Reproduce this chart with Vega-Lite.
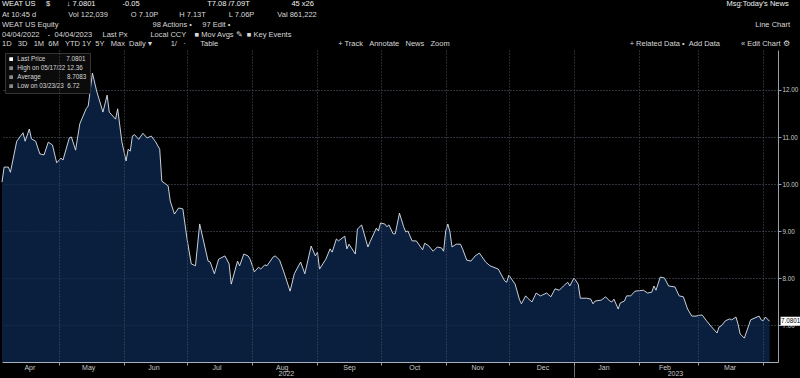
{
  "$schema": "https://vega.github.io/schema/vega-lite/v6.json",
  "width": 776,
  "height": 312,
  "padding": 0,
  "background": "#000000",
  "title": {
    "text": "WEAT US\u00a0\u00a0\u00a0\u00a0\u00a0$\u00a0\u00a0\u00a0\u00a0\u00a0\u00a0\u00a0\u00a0\u2193 7.0801\u00a0\u00a0\u00a0\u00a0\u00a0\u00a0\u00a0\u00a0\u00a0\u00a0\u00a0\u00a0\u00a0-0.05\u2003\u2003\u2003\u2003\u2003\u2003\u2003\u2003\u2003T7.08 /7.09T\u2003\u2003\u2003\u2003\u2003\u00a0\u00a045 x26\u2003\u2003\u2003\u2003\u2003\u2003\u2003\u2003\u2003\u2003\u2003\u2003\u2003\u2003\u2003\u2003\u2003\u2003\u2003\u2003\u2003\u2003\u2003\u2003\u2003\u2003\u2003\u2003\u2003\u2003\u2003\u2003\u2003\u2003\u2003\u2003\u2003\u2003\u2003\u2003\u2003\u2003\u2003\u2003\u2003\u2003\u2003\u2003\u2003\u2003\u2003\u2003\u2003\u2003\u2003Msg:Today's News",
    "subtitle": [
      "\u00a0\u00a0\u00a0\u00a0\u00a0\u00a0\u00a0\u00a0\u00a0\u00a0At 10:45 d\u2003\u2003\u2003\u2003\u00a0Vol 122,039\u00a0\u00a0\u00a0\u00a0\u00a0\u00a0\u00a0\u00a0\u00a0\u00a0\u00a0O 7.10P\u00a0\u00a0\u00a0\u00a0\u00a0\u00a0\u00a0\u00a0\u00a0\u00a0H 7.13T\u00a0\u00a0\u00a0\u00a0\u00a0\u00a0\u00a0\u00a0\u00a0\u00a0\u00a0L 7.06P\u00a0\u00a0\u00a0\u00a0\u00a0\u00a0\u00a0\u00a0\u00a0\u00a0\u00a0Val 861,222",
      "WEAT US Equity\u2003\u2003\u2003\u2003\u2003\u2003\u2003\u2003\u2003\u2003\u2003\u2003\u00a0\u00a098 Actions \u2022\u00a0\u00a0\u00a0\u00a0\u00a097 Edit \u2022\u2003\u2003\u2003\u2003\u2003\u2003\u2003\u2003\u2003\u2003\u2003\u2003\u2003\u2003\u2003\u2003\u2003\u2003\u2003\u2003\u2003\u2003\u2003\u2003\u2003\u2003\u2003\u2003\u2003\u2003\u2003\u2003\u2003\u2003\u2003\u2003\u2003\u2003\u2003\u2003\u2003\u2003\u2003\u2003\u2003\u2003\u2003\u2003\u2003\u2003\u2003\u2003\u2003\u2003\u2003\u2003\u2003\u2003\u2003\u2003\u2003\u2003\u2003\u2003\u2003\u2003\u2003\u2003\u2003\u2003Line Chart",
      "04/04/2022\u00a0\u00a0\u00a0\u00a0-\u00a0\u00a004/04/2023\u00a0\u00a0\u00a0\u00a0\u00a0Last Px\u00a0\u00a0\u00a0\u00a0\u00a0\u00a0\u00a0\u00a0\u00a0\u00a0\u00a0Local CCY\u00a0\u00a0\u00a0\u00a0\u25a0 Mov Avgs \u270e\u00a0\u00a0\u25a0 Key Events",
      "\u00a01D\u00a0\u00a0\u00a03D\u00a0\u00a0\u00a01M\u00a0\u00a06M\u00a0\u00a0\u00a0YTD\u00a01Y\u00a0\u00a05Y\u00a0\u00a0\u00a0Max\u00a0\u00a0Daily \u25be\u00a0\u00a0\u00a0\u00a0\u00a0\u00a0\u00a0\u00a0\u00a01/\u00a0\u00a0\u00a0\u00b7\u00a0\u00a0\u00a0\u00a0\u00a0\u00a0\u00a0Table\u2003\u2003\u2003\u2003\u2003\u2003\u2003\u2003\u2003\u2003\u2003\u2003\u2003\u2003\u2003\u2003+ Track\u00a0\u00a0\u00a0Annotate\u00a0\u00a0\u00a0News\u00a0\u00a0\u00a0Zoom\u2003\u2003\u2003\u2003\u2003\u2003\u2003\u2003\u2003\u2003\u2003\u2003\u2003\u2003\u2003\u2003\u2003\u2003\u2003\u2003\u2003\u2003\u2003\u2003+ Related Data \u2022\u00a0\u00a0Add Data\u00a0\u00a0\u00a0\u00a0\u00a0\u00a0\u00a0\u00a0\u00a0\u00a0\u00ab Edit Chart \u2699"
    ],
    "anchor": "start",
    "frame": "group",
    "font": "Liberation Sans",
    "fontSize": 7.5,
    "fontWeight": "normal",
    "color": "#f0f0f0",
    "subtitleFont": "Liberation Sans",
    "subtitleFontSize": 7.5,
    "subtitleColor": "#d8d8d8",
    "subtitleLineHeight": 9.9,
    "subtitlePadding": 3,
    "offset": 2
  },
  "datasets": {
    "prices": [
      {"date": "2022-04-04", "price": 10.04},
      {"date": "2022-04-05", "price": 10.36},
      {"date": "2022-04-07", "price": 10.36},
      {"date": "2022-04-08", "price": 10.25},
      {"date": "2022-04-11", "price": 10.91},
      {"date": "2022-04-14", "price": 11.09},
      {"date": "2022-04-15", "price": 10.91},
      {"date": "2022-04-17", "price": 11.17},
      {"date": "2022-04-18", "price": 10.96},
      {"date": "2022-04-20", "price": 10.91},
      {"date": "2022-04-22", "price": 10.64},
      {"date": "2022-04-24", "price": 10.62},
      {"date": "2022-04-26", "price": 10.89},
      {"date": "2022-04-28", "price": 10.83},
      {"date": "2022-04-30", "price": 10.45},
      {"date": "2022-05-02", "price": 10.55},
      {"date": "2022-05-03", "price": 10.51},
      {"date": "2022-05-06", "price": 10.98},
      {"date": "2022-05-07", "price": 11.00},
      {"date": "2022-05-09", "price": 10.72},
      {"date": "2022-05-11", "price": 11.28},
      {"date": "2022-05-14", "price": 11.60},
      {"date": "2022-05-15", "price": 11.66},
      {"date": "2022-05-17", "price": 12.36},
      {"date": "2022-05-19", "price": 11.98},
      {"date": "2022-05-22", "price": 11.53},
      {"date": "2022-05-24", "price": 11.89},
      {"date": "2022-05-25", "price": 11.53},
      {"date": "2022-05-28", "price": 11.38},
      {"date": "2022-05-29", "price": 11.60},
      {"date": "2022-05-31", "price": 10.90},
      {"date": "2022-06-02", "price": 10.49},
      {"date": "2022-06-03", "price": 10.74},
      {"date": "2022-06-04", "price": 10.70},
      {"date": "2022-06-05", "price": 11.02},
      {"date": "2022-06-06", "price": 11.05},
      {"date": "2022-06-08", "price": 10.95},
      {"date": "2022-06-10", "price": 11.08},
      {"date": "2022-06-12", "price": 10.98},
      {"date": "2022-06-14", "price": 11.02},
      {"date": "2022-06-16", "price": 10.90},
      {"date": "2022-06-18", "price": 10.74},
      {"date": "2022-06-19", "price": 10.06},
      {"date": "2022-06-22", "price": 9.96},
      {"date": "2022-06-23", "price": 9.64},
      {"date": "2022-06-25", "price": 9.36},
      {"date": "2022-06-27", "price": 9.49},
      {"date": "2022-06-29", "price": 9.47},
      {"date": "2022-07-01", "price": 8.83},
      {"date": "2022-07-03", "price": 8.30},
      {"date": "2022-07-05", "price": 8.26},
      {"date": "2022-07-07", "price": 9.15},
      {"date": "2022-07-11", "price": 8.36},
      {"date": "2022-07-12", "price": 8.34},
      {"date": "2022-07-14", "price": 8.09},
      {"date": "2022-07-16", "price": 8.40},
      {"date": "2022-07-19", "price": 8.47},
      {"date": "2022-07-21", "price": 8.30},
      {"date": "2022-07-22", "price": 7.87},
      {"date": "2022-07-25", "price": 8.36},
      {"date": "2022-07-26", "price": 8.26},
      {"date": "2022-07-28", "price": 8.51},
      {"date": "2022-07-30", "price": 8.47},
      {"date": "2022-07-31", "price": 8.40},
      {"date": "2022-08-02", "price": 8.13},
      {"date": "2022-08-04", "price": 8.23},
      {"date": "2022-08-05", "price": 8.19},
      {"date": "2022-08-07", "price": 8.28},
      {"date": "2022-08-08", "price": 8.26},
      {"date": "2022-08-11", "price": 8.45},
      {"date": "2022-08-12", "price": 8.47},
      {"date": "2022-08-14", "price": 8.38},
      {"date": "2022-08-16", "price": 8.13},
      {"date": "2022-08-19", "price": 7.72},
      {"date": "2022-08-21", "price": 8.09},
      {"date": "2022-08-24", "price": 8.34},
      {"date": "2022-08-26", "price": 8.09},
      {"date": "2022-08-29", "price": 8.68},
      {"date": "2022-08-31", "price": 8.47},
      {"date": "2022-09-01", "price": 8.55},
      {"date": "2022-09-02", "price": 8.19},
      {"date": "2022-09-05", "price": 8.40},
      {"date": "2022-09-07", "price": 8.62},
      {"date": "2022-09-08", "price": 8.55},
      {"date": "2022-09-10", "price": 8.83},
      {"date": "2022-09-11", "price": 8.79},
      {"date": "2022-09-14", "price": 8.89},
      {"date": "2022-09-15", "price": 8.62},
      {"date": "2022-09-16", "price": 8.72},
      {"date": "2022-09-19", "price": 8.51},
      {"date": "2022-09-20", "price": 9.04},
      {"date": "2022-09-22", "price": 9.13},
      {"date": "2022-09-25", "price": 8.66},
      {"date": "2022-09-26", "price": 8.77},
      {"date": "2022-09-29", "price": 9.06},
      {"date": "2022-09-30", "price": 9.00},
      {"date": "2022-10-01", "price": 9.17},
      {"date": "2022-10-03", "price": 9.15},
      {"date": "2022-10-04", "price": 9.09},
      {"date": "2022-10-05", "price": 9.13},
      {"date": "2022-10-07", "price": 8.94},
      {"date": "2022-10-08", "price": 8.94},
      {"date": "2022-10-10", "price": 9.38},
      {"date": "2022-10-12", "price": 9.09},
      {"date": "2022-10-13", "price": 8.98},
      {"date": "2022-10-14", "price": 9.00},
      {"date": "2022-10-16", "price": 8.79},
      {"date": "2022-10-18", "price": 8.79},
      {"date": "2022-10-21", "price": 8.60},
      {"date": "2022-10-22", "price": 8.74},
      {"date": "2022-10-24", "price": 8.68},
      {"date": "2022-10-26", "price": 8.57},
      {"date": "2022-10-28", "price": 8.66},
      {"date": "2022-10-30", "price": 8.64},
      {"date": "2022-10-31", "price": 8.57},
      {"date": "2022-11-01", "price": 9.00},
      {"date": "2022-11-02", "price": 9.15},
      {"date": "2022-11-03", "price": 8.98},
      {"date": "2022-11-04", "price": 8.66},
      {"date": "2022-11-06", "price": 8.72},
      {"date": "2022-11-08", "price": 8.72},
      {"date": "2022-11-09", "price": 8.62},
      {"date": "2022-11-11", "price": 8.38},
      {"date": "2022-11-13", "price": 8.36},
      {"date": "2022-11-15", "price": 8.47},
      {"date": "2022-11-17", "price": 8.53},
      {"date": "2022-11-20", "price": 8.34},
      {"date": "2022-11-22", "price": 8.26},
      {"date": "2022-11-26", "price": 8.19},
      {"date": "2022-11-29", "price": 7.94},
      {"date": "2022-11-30", "price": 7.91},
      {"date": "2022-12-01", "price": 8.06},
      {"date": "2022-12-04", "price": 7.87},
      {"date": "2022-12-06", "price": 7.55},
      {"date": "2022-12-07", "price": 7.45},
      {"date": "2022-12-09", "price": 7.62},
      {"date": "2022-12-10", "price": 7.57},
      {"date": "2022-12-12", "price": 7.49},
      {"date": "2022-12-14", "price": 7.68},
      {"date": "2022-12-16", "price": 7.62},
      {"date": "2022-12-17", "price": 7.64},
      {"date": "2022-12-19", "price": 7.68},
      {"date": "2022-12-21", "price": 7.60},
      {"date": "2022-12-23", "price": 7.77},
      {"date": "2022-12-25", "price": 7.74},
      {"date": "2022-12-27", "price": 7.83},
      {"date": "2022-12-29", "price": 7.91},
      {"date": "2022-12-30", "price": 7.83},
      {"date": "2023-01-01", "price": 8.00},
      {"date": "2023-01-03", "price": 7.87},
      {"date": "2023-01-04", "price": 7.57},
      {"date": "2023-01-07", "price": 7.57},
      {"date": "2023-01-09", "price": 7.55},
      {"date": "2023-01-10", "price": 7.45},
      {"date": "2023-01-11", "price": 7.51},
      {"date": "2023-01-14", "price": 7.53},
      {"date": "2023-01-16", "price": 7.60},
      {"date": "2023-01-18", "price": 7.51},
      {"date": "2023-01-19", "price": 7.49},
      {"date": "2023-01-20", "price": 7.55},
      {"date": "2023-01-22", "price": 7.34},
      {"date": "2023-01-23", "price": 7.47},
      {"date": "2023-01-25", "price": 7.51},
      {"date": "2023-01-26", "price": 7.62},
      {"date": "2023-01-28", "price": 7.62},
      {"date": "2023-01-30", "price": 7.72},
      {"date": "2023-02-03", "price": 7.74},
      {"date": "2023-02-05", "price": 7.68},
      {"date": "2023-02-07", "price": 7.70},
      {"date": "2023-02-08", "price": 7.83},
      {"date": "2023-02-09", "price": 7.74},
      {"date": "2023-02-11", "price": 8.02},
      {"date": "2023-02-13", "price": 8.00},
      {"date": "2023-02-15", "price": 7.83},
      {"date": "2023-02-18", "price": 7.81},
      {"date": "2023-02-20", "price": 7.62},
      {"date": "2023-02-22", "price": 7.60},
      {"date": "2023-02-24", "price": 7.34},
      {"date": "2023-02-26", "price": 7.19},
      {"date": "2023-02-28", "price": 7.19},
      {"date": "2023-03-02", "price": 7.21},
      {"date": "2023-03-03", "price": 7.21},
      {"date": "2023-03-05", "price": 7.09},
      {"date": "2023-03-07", "price": 6.98},
      {"date": "2023-03-10", "price": 6.83},
      {"date": "2023-03-11", "price": 6.96},
      {"date": "2023-03-12", "price": 6.98},
      {"date": "2023-03-14", "price": 7.09},
      {"date": "2023-03-16", "price": 7.13},
      {"date": "2023-03-17", "price": 7.11},
      {"date": "2023-03-19", "price": 7.17},
      {"date": "2023-03-20", "price": 7.02},
      {"date": "2023-03-21", "price": 6.81},
      {"date": "2023-03-23", "price": 6.72},
      {"date": "2023-03-25", "price": 6.98},
      {"date": "2023-03-26", "price": 7.11},
      {"date": "2023-03-29", "price": 7.17},
      {"date": "2023-03-30", "price": 7.19},
      {"date": "2023-03-31", "price": 7.11},
      {"date": "2023-04-01", "price": 7.09},
      {"date": "2023-04-02", "price": 7.17},
      {"date": "2023-04-04", "price": 7.08}
    ],
    "last": [
      {"date": "2023-04-04", "price": 7.0801, "series": "Last Price\u00a0\u00a0\u00a0\u00a0\u00a0\u00a0\u00a0\u00a0\u00a0\u00a0\u00a0\u00a07.0801"}
    ]
  },
  "resolve": {"axis": {"x": "independent"}},
  "layer": [
    {
      "data": {"name": "prices"},
      "mark": {"type": "area", "color": "#0d2950", "opacity": 0.76, "clip": true},
      "encoding": {
        "x": {
          "field": "date", "type": "temporal",
          "scale": {"type": "utc", "domain": [{"year": 2022, "month": 4, "date": 4, "utc": true}, {"year": 2023, "month": 4, "date": 8, "utc": true}]},
          "axis": {
            "orient": "bottom",
            "values": [
              {"year": 2022, "month": 5, "date": 1, "utc": true},
              {"year": 2022, "month": 6, "date": 1, "utc": true},
              {"year": 2022, "month": 7, "date": 1, "utc": true},
              {"year": 2022, "month": 8, "date": 1, "utc": true},
              {"year": 2022, "month": 9, "date": 1, "utc": true},
              {"year": 2022, "month": 10, "date": 1, "utc": true},
              {"year": 2022, "month": 11, "date": 1, "utc": true},
              {"year": 2022, "month": 12, "date": 1, "utc": true},
              {"year": 2023, "month": 1, "date": 1, "utc": true},
              {"year": 2023, "month": 2, "date": 1, "utc": true},
              {"year": 2023, "month": 3, "date": 1, "utc": true},
              {"year": 2023, "month": 4, "date": 1, "utc": true}
            ],
            "labels": false, "ticks": true, "tickSize": 3, "tickColor": "#9aa0aa",
            "domain": true, "domainColor": "#aab0bb",
            "grid": true, "gridColor": "#4d5566", "gridDash": [1, 2],
            "title": null, "zindex": 1
          }
        },
        "y": {
          "field": "price", "type": "quantitative",
          "scale": {"domain": [6.213, 12.851], "nice": false, "zero": false},
          "axis": {
            "orient": "right",
            "values": [7, 8, 9, 10, 11, 12],
            "format": ".2f",
            "grid": true, "gridColor": "#5a6274", "gridDash": [1, 2], "gridOpacity": 1,
            "tickSize": 3, "tickColor": "#9aa0aa", "domainColor": "#9aa0aa",
            "labelColor": "#c8c8c8", "labelFontSize": 6.3, "labelFont": "Liberation Sans",
            "labelPadding": 1, "labelOverlap": false, "title": null, "zindex": 0
          }
        }
      }
    },
    {
      "data": {"name": "prices"},
      "mark": {"type": "line", "color": "#dfe5ee", "strokeWidth": 0.9},
      "encoding": {
        "x": {
          "field": "date", "type": "temporal",
          "scale": {"type": "utc", "domain": [{"year": 2022, "month": 4, "date": 4, "utc": true}, {"year": 2023, "month": 4, "date": 8, "utc": true}]},
          "axis": {
            "orient": "bottom",
            "values": [
              {"year": 2022, "month": 4, "date": 17, "utc": true},
              {"year": 2022, "month": 5, "date": 15, "utc": true},
              {"year": 2022, "month": 6, "date": 15, "utc": true},
              {"year": 2022, "month": 7, "date": 15, "utc": true},
              {"year": 2022, "month": 8, "date": 15, "utc": true},
              {"year": 2022, "month": 9, "date": 16, "utc": true},
              {"year": 2022, "month": 10, "date": 17, "utc": true},
              {"year": 2022, "month": 11, "date": 16, "utc": true},
              {"year": 2022, "month": 12, "date": 17, "utc": true},
              {"year": 2023, "month": 1, "date": 15, "utc": true},
              {"year": 2023, "month": 2, "date": 13, "utc": true},
              {"year": 2023, "month": 3, "date": 16, "utc": true}
            ],
            "labelExpr": "utcFormat(datum.value, '%b')",
            "ticks": false, "tickSize": 0, "domain": false, "grid": false,
            "labelColor": "#c8c8c8", "labelFontSize": 7, "labelFont": "Liberation Sans",
            "labelPadding": 1, "title": null
          }
        },
        "y": {"field": "price", "type": "quantitative", "scale": {"domain": [6.213, 12.851], "nice": false, "zero": false}}
      }
    },
    {
      "data": {"name": "last"},
      "mark": {"type": "point", "filled": true, "opacity": 1, "strokeWidth": 0, "shape": "M-1,-0.45H1V0.45H-1Z", "size": 400, "xOffset": 21},
      "encoding": {
        "x": {
          "field": "date", "type": "temporal",
          "scale": {"type": "utc", "domain": [{"year": 2022, "month": 4, "date": 4, "utc": true}, {"year": 2023, "month": 4, "date": 8, "utc": true}]},
          "axis": {
            "orient": "bottom",
            "values": [
              {"year": 2022, "month": 8, "date": 17, "utc": true},
              {"year": 2023, "month": 1, "date": 1, "utc": true},
              {"year": 2023, "month": 2, "date": 18, "utc": true}
            ],
            "labelExpr": "utcmonth(datum.value) == 0 ? '' : utcFormat(datum.value, '%Y')",
            "ticks": true, "tickSize": 15, "tickColor": "#6a6f78",
            "tickOpacity": {"condition": {"test": "utcmonth(datum.value) == 0", "value": 1}, "value": 0},
            "domain": false, "grid": false,
            "labelColor": "#c8c8c8", "labelFontSize": 7, "labelFont": "Liberation Sans",
            "labelPadding": -8, "title": null
          }
        },
        "y": {"field": "price", "type": "quantitative", "scale": {"domain": [6.213, 12.851], "nice": false, "zero": false}},
        "color": {
          "field": "series", "type": "nominal",
          "scale": {
            "domain": [
              "Last Price\u00a0\u00a0\u00a0\u00a0\u00a0\u00a0\u00a0\u00a0\u00a0\u00a0\u00a0\u00a07.0801",
              "High on 05/17/22\u00a012.36",
              "Average\u00a0\u00a0\u00a0\u00a0\u00a0\u00a0\u00a0\u00a0\u00a0\u00a0\u00a0\u00a0\u00a0\u00a0\u00a08.7083",
              "Low on 03/23/23\u00a0\u00a06.72"
            ],
            "range": ["#ffffff", "#8a8a8a", "#8a8a8a", "#8a8a8a"]
          },
          "legend": {
            "title": null, "orient": "top-left", "offset": 3,
            "fillColor": "#0b0b0b", "strokeColor": "#333333", "padding": 3,
            "symbolType": "square", "symbolSize": 14, "symbolStrokeWidth": 0,
            "labelFontSize": 6.3, "labelFont": "Liberation Sans", "labelColor": "#d8d8d8",
            "labelLimit": 200, "rowPadding": 2, "labelOffset": 3
          }
        }
      }
    },
    {
      "data": {"name": "last"},
      "mark": {"type": "text", "color": "#000000", "fontSize": 6.3, "font": "Liberation Sans", "dx": 21, "align": "center", "baseline": "middle"},
      "encoding": {
        "x": {"field": "date", "type": "temporal", "scale": {"type": "utc", "domain": [{"year": 2022, "month": 4, "date": 4, "utc": true}, {"year": 2023, "month": 4, "date": 8, "utc": true}]}, "axis": null},
        "y": {"field": "price", "type": "quantitative", "scale": {"domain": [6.213, 12.851], "nice": false, "zero": false}},
        "text": {"field": "price", "type": "quantitative", "format": ".4f"}
      }
    }
  ],
  "config": {
    "view": {"stroke": null},
    "font": "Liberation Sans"
  }
}
